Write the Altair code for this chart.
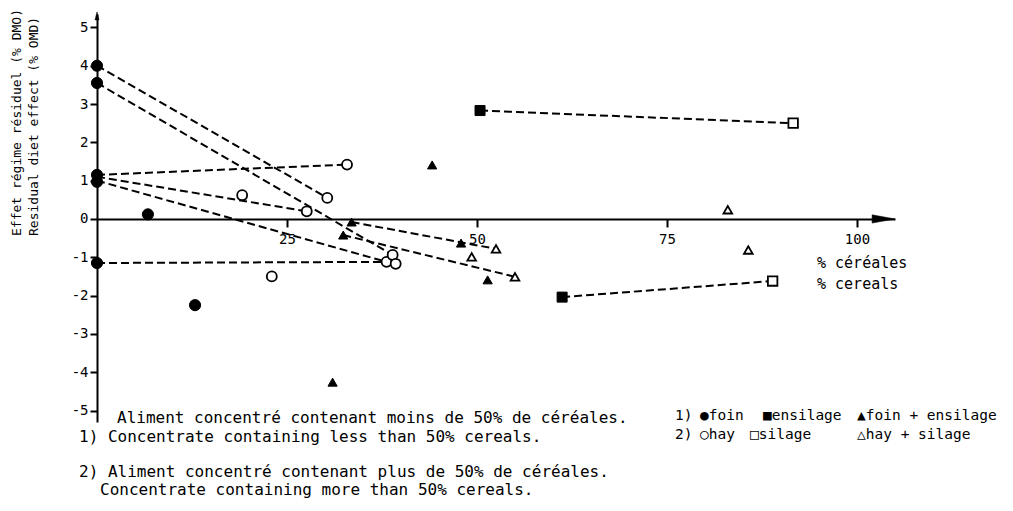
import altair as alt
import pandas as pd

# ---------------- data ----------------
foin_x = [0, 0, 0, 0, 6.7, 0, 12.9]
foin_y = [4.0, 3.55, 1.15, 0.97, 0.12, -1.15, -2.25]
hay_x = [32.9, 30.3, 27.6, 19.1, 23.0, 38.1, 38.9, 39.3]
hay_y = [1.42, 0.55, 0.2, 0.62, -1.5, -1.12, -0.94, -1.17]
fe_x = [44.1, 33.5, 32.4, 47.9, 51.4, 31.0]          # foin + ensilage
fe_y = [1.41, -0.08, -0.42, -0.63, -1.59, -4.26]
hs_x = [52.5, 49.3, 55.0, 83.0, 85.7]                # hay + silage
hs_y = [-0.78, -0.99, -1.51, 0.24, -0.81]
ens_x = [50.4, 61.2]                                 # ensilage
ens_y = [2.83, -2.04]
sil_x = [91.6, 88.9]                                 # silage
sil_y = [2.5, -1.62]

seg_x1 = [0, 0, 0, 0, 0, 0, 33.5, 32.4, 50.4, 61.2]
seg_y1 = [4.0, 3.55, 1.15, 1.1, 1.0, -1.15, -0.08, -0.42, 2.83, -2.04]
seg_x2 = [30.3, 38.9, 32.9, 27.6, 38.1, 38.1, 52.5, 55.0, 91.6, 88.9]
seg_y2 = [0.55, -0.94, 1.42, 0.2, -1.12, -1.12, -0.78, -1.51, 2.5, -1.62]

x_ticks = [25, 50, 75, 100]
y_ticks = [-5, -4, -3, -2, -1, 0, 1, 2, 3, 4, 5]

y_title = ["Effet régime résiduel (% DMO)", "Residual diet effect (% OMD)"]
x_title = ["% céréales", "% cereals"]
notes = [
    "Aliment concentré contenant moins de 50% de céréales.",
    "1) Concentrate containing less than 50% cereals.",
    "2) Aliment concentré contenant plus de 50% de céréales.",
    "Concentrate containing more than 50% cereals.",
]
legend_row1 = ["1)", "●foin", "■ensilage", "▲foin + ensilage"]
legend_row2 = ["2)", "○hay", "□silage", "△hay + silage"]

# ---------------- layout ----------------
FONT = "DejaVu Sans Mono"
W, H = 798, 408
XDOM = [0, 105]
YDOM = [-5.3, 5.35]
zero_px = (YDOM[1] - 0) / (YDOM[1] - YDOM[0]) * H

xs = alt.Scale(domain=XDOM, nice=False, zero=False)
ys = alt.Scale(domain=YDOM, nice=False, zero=False)

xaxis = alt.Axis(values=x_ticks, orient="bottom", offset=-(H - zero_px),
                 tickSize=8, labelPadding=6, labelFlush=False, labelFontSize=14)
yaxis = alt.Axis(values=y_ticks, orient="left", tickSize=7, labelPadding=2,
                 labelFontSize=14, labelExpr="'' + datum.value")


def X(f):
    return alt.X(f, type="quantitative", scale=xs, axis=xaxis, title=None)


def Y(f):
    return alt.Y(f, type="quantitative", scale=ys, axis=yaxis, title=None)


segs = pd.DataFrame({"x1": seg_x1, "y1": seg_y1, "x2": seg_x2, "y2": seg_y2})
rules = alt.Chart(segs).mark_rule(color="black", strokeWidth=2, strokeDash=[8, 4]).encode(
    x=X("x1"), y=Y("y1"), x2="x2", y2="y2")


def pts(xv, yv, shape, filled, size):
    df = pd.DataFrame({"x": xv, "y": yv})
    if filled:
        m = alt.Chart(df).mark_point(shape=shape, filled=True, fill="black", stroke="black",
                                     strokeWidth=1, size=size, opacity=1)
    else:
        m = alt.Chart(df).mark_point(shape=shape, filled=True, fill="white", stroke="black",
                                     strokeWidth=1.8, size=size, opacity=1)
    return m.encode(x=X("x"), y=Y("y"))


layers = [rules,
          pts(foin_x, foin_y, "circle", True, 125),
          pts(hay_x, hay_y, "circle", False, 100),
          pts(fe_x, fe_y, "triangle-up", True, 85),
          pts(hs_x, hs_y, "triangle-up", False, 75),
          pts(ens_x, ens_y, "square", True, 100),
          pts(sil_x, sil_y, "square", False, 90)]

# axis arrows
arrows = pd.DataFrame({"x": [103.5, 0], "y": [0, 5.3],
                       "s": ["M -1 -0.36 L 1 0 L -1 0.36 Z", "M -0.5 1 L 0 -1 L 0.5 1 Z"],
                       "z": [529, 64]})
arrow_layer = alt.Chart(arrows).mark_point(filled=True, fill="black", stroke="black",
                                           opacity=1, strokeWidth=0.5).encode(
    x=X("x"), y=Y("y"),
    shape=alt.Shape("s:N", scale=None, legend=None),
    size=alt.Size("z:Q", scale=None, legend=None))
layers.append(arrow_layer)

one = pd.DataFrame({"a": [0]})


def txt(s, px, py, size=16, align="left", angle=0):
    kw = dict(align=align, baseline="middle", font=FONT, fontSize=size, color="black")
    if angle:
        kw["angle"] = angle
    return alt.Chart(one).mark_text(**kw).encode(
        x=alt.value(px), y=alt.value(py), text=alt.value(s))


# y title (rotated, two lines, bottom-aligned)
layers.append(txt(y_title[0], -80, 222, size=13, angle=270))
layers.append(txt(y_title[1], -63, 222, size=13, angle=270))
# x title
layers.append(txt(x_title[0], 720, 249, size=15))
layers.append(txt(x_title[1], 720, 270, size=15))
# notes
layers.append(txt(notes[0], 20, 404))
layers.append(txt(notes[1], -18, 423))
layers.append(txt(notes[2], -18, 458))
layers.append(txt(notes[3], 3, 476))
# legend
for s, px in zip(legend_row1, [578, 603, 666, 760]):
    layers.append(txt(s, px, 402, size=14.5))
for s, px in zip(legend_row2, [578, 603, 653, 760]):
    layers.append(txt(s, px, 421, size=14.5))

chart = alt.layer(*layers).properties(
    width=W, height=H,
    autosize=alt.AutoSizeParams(type="none"),
    padding={"left": 89, "top": 6, "right": 110, "bottom": 81},
).configure(
    background="white",
    view=alt.ViewConfig(strokeWidth=0, stroke="transparent"),
    axis=alt.AxisConfig(
        grid=False, domainColor="black", domainWidth=2, domainOpacity=1,
        tickColor="black", tickWidth=2, tickOpacity=1, ticks=True,
        labelFont=FONT, labelColor="black", titleFont=FONT),
)

chart.save("out.html", embed_options={"renderer": "svg", "actions": False})
